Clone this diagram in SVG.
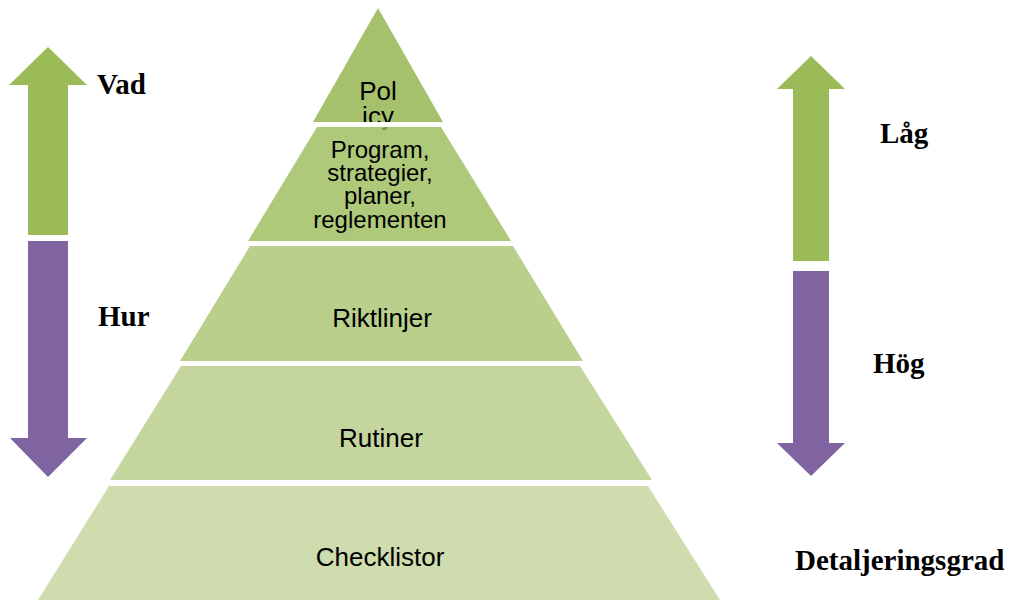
<svg xmlns="http://www.w3.org/2000/svg" width="1024" height="600" viewBox="0 0 1024 600">
  <style>
    .lvl { font-family: "Liberation Sans", Arial, sans-serif; fill: #000; text-anchor: middle; }
    .big { font-size: 26px; }
    .mid { font-size: 24px; }
    .side { font-family: "Liberation Serif", "Times New Roman", serif; font-weight: bold; font-size: 29px; fill: #000; }
    .up { fill: #9BBB59; }
    .down { fill: #8064A2; }
  </style>
  <rect width="1024" height="600" fill="#fff"/>

  <!-- pyramid levels, top to bottom -->
  <g id="level-policy">
    <polygon points="378,8 443,122 313,122" fill="#A5C16C"/>
    <text class="lvl big" x="378" y="100">Pol</text>
    <text class="lvl big" x="378" y="125">icy</text>
    <!-- white separator between the top two levels -->
    <rect x="290" y="122" width="180" height="5" fill="#fff"/>
  </g>

  <g id="level-program">
    <polygon points="317,127 441,127 511,241 248,241" fill="#9BBB59" fill-opacity="0.8"/>
    <text class="lvl mid" x="380" y="158">Program,</text>
    <text class="lvl mid" x="380" y="181">strategier,</text>
    <text class="lvl mid" x="380" y="204">planer,</text>
    <text class="lvl mid" x="380" y="228">reglementen</text>
  </g>

  <g id="level-riktlinjer">
    <polygon points="250,246 513,246 583,361 180,361" fill="#BACF8B"/>
    <text class="lvl big" x="382" y="327">Riktlinjer</text>
  </g>

  <g id="level-rutiner">
    <polygon points="181,366 580,366 652,480 110,480" fill="#C4D69E"/>
    <text class="lvl big" x="381" y="447">Rutiner</text>
  </g>

  <g id="level-checklistor">
    <polygon points="109,486 648,486 720,600 38,600" fill="#CEDCAE"/>
    <text class="lvl big" x="380" y="566">Checklistor</text>
  </g>

  <!-- scale arrows -->
  <g id="connectors">
    <polygon class="up" points="48,47 87,85 68,85 68,235 28,235 28,85 9,85"/>
    <polygon class="down" points="28,241 68,241 68,438 87,438 48,477 10,438 28,438"/>
    <polygon class="up" points="811,56 845,89 829,89 829,261 793,261 793,89 777,89"/>
    <polygon class="down" points="793,271 829,271 829,443 845,443 811,476 777,443 793,443"/>
  </g>

  <g id="labels">
    <text class="side" x="97" y="94">Vad</text>
    <text class="side" x="98" y="326">Hur</text>
    <text class="side" x="880" y="143">Låg</text>
    <text class="side" x="873" y="373">Hög</text>
    <text class="side" x="795" y="570">Detaljeringsgrad</text>
  </g>
</svg>
